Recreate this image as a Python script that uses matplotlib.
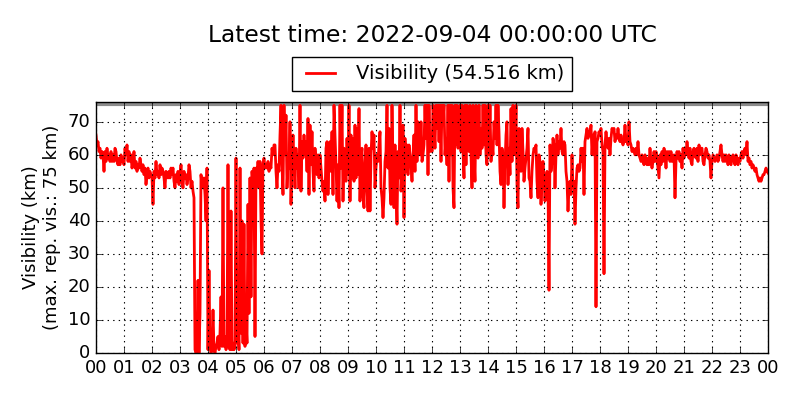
import numpy as np
import matplotlib
matplotlib.use("Agg")
import matplotlib.pyplot as plt

# Visibility readings (km), sampled every 1/28 h, in 4-hour blocks
vis_00_04 = [66, 63, 64, 61, 62, 59, 61, 60, 55, 61, 58, 62, 59, 60, 58, 61, 58, 60, 58, 62,
             61, 58, 57, 59, 57, 60, 58, 59, 57, 62, 60, 63, 58, 61, 58, 60, 56, 58, 61, 56,
             58, 55, 57, 56, 59, 57, 55, 57, 54, 56, 51, 54, 56, 53, 55, 54, 53, 45, 55, 53,
             58, 54, 55, 53, 57, 54, 56, 55, 53, 50, 55, 54, 53, 55, 53, 56, 54, 56, 52, 50,
             54, 52, 55, 51, 54, 57, 52, 50, 55, 53, 54, 51, 53, 57, 55, 50, 52, 49, 47, 1,
             0, 1, 22, 0, 12, 54, 51, 50, 53, 48, 40, 56]
vis_04_08 = [1, 25, 2, 0, 1, 13, 1, 0, 2, 3, 5, 1, 6, 17, 2, 50, 2, 5, 1, 3,
             57, 2, 1, 43, 1, 3, 1, 2, 59, 3, 10, 1, 56, 6, 40, 3, 39, 2, 10, 3,
             45, 12, 53, 17, 55, 50, 56, 5, 56, 52, 58, 50, 58, 40, 30, 57, 59, 56, 57, 56,
             58, 55, 57, 56, 62, 60, 63, 63, 55, 50, 57, 55, 66, 75, 57, 48, 75, 60, 72, 50,
             58, 56, 70, 45, 58, 66, 58, 50, 62, 56, 60, 50, 75, 49, 64, 59, 66, 60, 64, 55,
             71, 48, 69, 57, 67, 55, 49, 62, 58, 54, 60, 53]
vis_08_12 = [60, 56, 52, 49, 52, 46, 62, 64, 48, 58, 64, 55, 67, 48, 75, 66, 57, 46, 57, 44,
             75, 56, 75, 46, 62, 57, 52, 65, 54, 75, 46, 66, 53, 65, 52, 69, 53, 68, 54, 74,
             46, 59, 62, 48, 44, 57, 63, 50, 43, 62, 43, 60, 67, 62, 66, 50, 56, 60, 58, 63,
             67, 50, 47, 41, 47, 58, 61, 75, 56, 68, 50, 45, 75, 57, 44, 63, 50, 39, 61, 53,
             75, 49, 56, 69, 41, 65, 55, 63, 54, 63, 60, 57, 52, 60, 66, 55, 75, 58, 70, 62,
             60, 70, 58, 60, 63, 75, 65, 75, 54, 75, 61, 65]
vis_12_16 = [61, 75, 70, 62, 75, 68, 75, 64, 75, 58, 75, 70, 75, 60, 65, 57, 75, 52, 75, 60,
             75, 50, 44, 75, 63, 75, 62, 66, 75, 61, 75, 61, 53, 75, 57, 75, 65, 61, 75, 60,
             50, 75, 60, 52, 75, 62, 59, 75, 60, 68, 62, 75, 63, 75, 60, 57, 75, 60, 75, 58,
             63, 60, 70, 65, 75, 63, 75, 67, 55, 51, 62, 60, 44, 57, 66, 70, 51, 62, 54, 74,
             58, 75, 66, 60, 75, 51, 44, 68, 62, 55, 68, 61, 52, 56, 59, 62, 68, 53, 52, 47,
             55, 60, 62, 61, 63, 52, 47, 60, 58, 45, 52, 58]
vis_16_20 = [53, 46, 52, 55, 51, 19, 63, 55, 58, 65, 63, 50, 60, 66, 60, 64, 62, 68, 61, 60,
             64, 63, 55, 52, 43, 50, 52, 48, 60, 50, 52, 39, 50, 56, 57, 55, 56, 62, 58, 62,
             48, 64, 66, 68, 65, 67, 66, 69, 60, 66, 60, 67, 14, 64, 65, 67, 66, 68, 63, 61,
             24, 63, 67, 64, 62, 65, 60, 65, 68, 67, 68, 64, 66, 65, 68, 65, 64, 66, 64, 63,
             64, 69, 64, 65, 63, 70, 64, 63, 61, 62, 61, 60, 62, 60, 64, 60, 59, 58, 60, 58,
             57, 60, 58, 57, 59, 57, 62, 58, 56, 58, 61, 58]
vis_20_24 = [61, 59, 56, 53, 60, 57, 61, 58, 62, 60, 56, 61, 59, 61, 58, 61, 58, 59, 60, 47,
             58, 61, 59, 61, 58, 60, 56, 62, 59, 62, 60, 64, 61, 59, 62, 58, 57, 61, 62, 60,
             59, 62, 58, 63, 60, 62, 62, 58, 57, 60, 62, 61, 59, 60, 58, 53, 58, 60, 59, 58,
             59, 60, 58, 59, 61, 63, 60, 58, 60, 58, 60, 59, 57, 60, 58, 57, 59, 60, 58, 57,
             60, 59, 57, 59, 58, 60, 61, 59, 61, 62, 60, 64, 58, 59, 57, 58, 56, 57, 56, 55,
             56, 54, 53, 52, 53, 52, 53, 54, 54, 55, 56, 55, 54.516]

blocks = [vis_00_04, vis_04_08, vis_08_12, vis_12_16, vis_16_20, vis_20_24]
block_starts = [0, 4, 8, 12, 16, 20]
samples_per_hour = 28

max_rep_vis = 75
latest_value = 54.516
title_text = "Latest time: 2022-09-04 00:00:00 UTC"
hour_labels = ["%02d" % (h % 24) for h in range(25)]

times = np.concatenate([start + np.arange(len(b)) / samples_per_hour
                        for start, b in zip(block_starts, blocks)])
values = np.concatenate([np.asarray(b, dtype=float) for b in blocks])

plt.style.use("classic")
fig = plt.figure(figsize=(8, 4), dpi=100, facecolor="white")
ax = fig.add_axes([0.12, 0.1175, 0.84, 0.6275])
ax.set_facecolor("white")

ax.axhline(max_rep_vis + 0.4, color="0.55", lw=3, zorder=1)
ax.plot(times, values, color="red", lw=2, zorder=2,
        label="Visibility (%.3f km)" % latest_value)

ax.set_xlim(0, 24)
ax.set_ylim(0, 76)
ax.set_xticks(range(25))
ax.set_xticklabels(hour_labels)
ax.set_yticks(range(0, 71, 10))
ax.tick_params(labelsize=13, direction="in")
ax.grid(True, color="k", linestyle=":", lw=0.8)
ax.set_ylabel("Visibility (km)\n(max. rep. vis.: %d km)" % max_rep_vis, fontsize=13)

leg = ax.legend(loc="lower center", bbox_to_anchor=(0.5, 1.02), fontsize=14,
                frameon=True, fancybox=False, numpoints=2, handlelength=2.1,
                borderaxespad=0.3)
fig.text(0.54, 0.9125, title_text, ha="center", va="center", fontsize=16.8)

fig.savefig("out.png", dpi=100, facecolor="white")
